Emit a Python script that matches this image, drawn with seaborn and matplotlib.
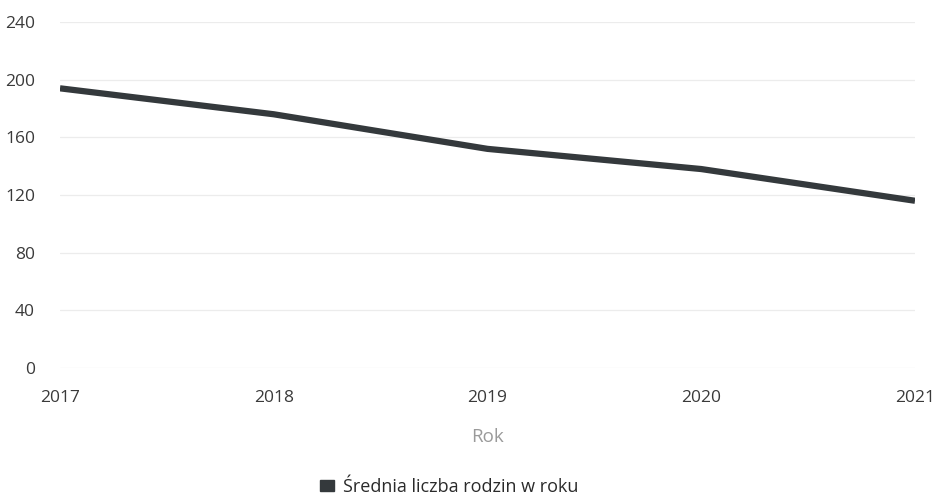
import matplotlib
matplotlib.use("Agg")
import matplotlib.pyplot as plt
import seaborn as sns
import pandas as pd
from matplotlib.patches import Patch

years = [2017, 2018, 2019, 2020, 2021]
values = [194, 176, 152, 138, 116]
y_ticks = [0, 40, 80, 120, 160, 200, 240]
series_name = "Średnia liczba rodzin w roku"
x_title = "Rok"

sns.set_theme(style="white")
plt.rcParams['font.family'] = ['Open Sans', 'DejaVu Sans']

df = pd.DataFrame({"Rok": years, "val": values})

fig = plt.figure(figsize=(9.39, 5.0), dpi=100)
ax = fig.add_axes([60/939, 1-368/500, (915-60)/939, (368-22)/500])

line_color = "#34393c"
sns.lineplot(data=df, x="Rok", y="val", ax=ax, color=line_color, linewidth=4.5,
             solid_capstyle="butt", legend=False)

ax.set_xlim(years[0], years[-1])
ax.set_ylim(0, 240)
ax.set_yticks(y_ticks)
ax.set_yticklabels([str(t) for t in y_ticks])
ax.set_xticks(years)
ax.set_xticklabels([str(y) for y in years])
ax.grid(axis="y", color="#ececec", linewidth=0.9)
ax.grid(axis="x", visible=False)
for s in ax.spines.values():
    s.set_visible(False)
ax.tick_params(axis="y", length=0, pad=18, labelsize=12.5, labelcolor="#3a3a3a")
ax.tick_params(axis="x", length=0, pad=16, labelsize=12.5, labelcolor="#3a3a3a")
ax.set_ylabel("")
ax.set_xlabel(x_title, fontsize=13.5, color="#9a9a9a", labelpad=16)

handle = Patch(facecolor=line_color, edgecolor=line_color)
fig.legend(handles=[handle], labels=[series_name], loc="center",
           bbox_to_anchor=(449/939, 1-487/500), frameon=False, fontsize=13,
           handlelength=0.8, handleheight=0.6, handletextpad=0.5,
           labelcolor="#2a2a2a")

fig.savefig("out.png", dpi=100, facecolor="white")
